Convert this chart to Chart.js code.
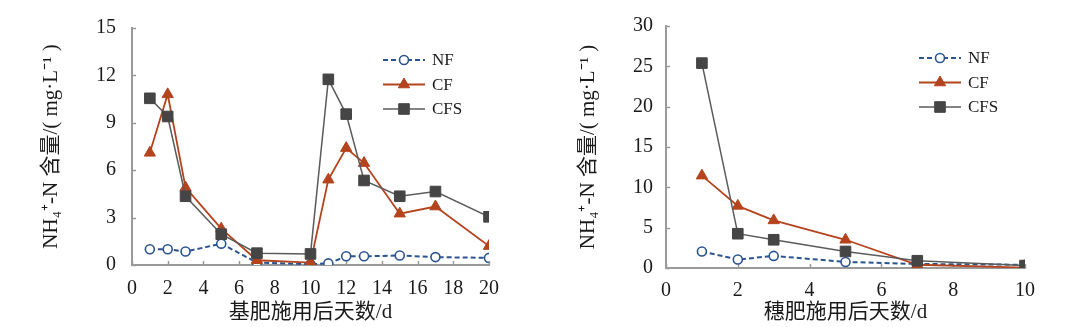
<!DOCTYPE html>
<html>
<head>
<meta charset="utf-8">
<script src="https://cdn.jsdelivr.net/npm/chart.js@4.4.0/dist/chart.umd.min.js"></script>
<style>
  body { margin: 0; background: #fff; }
  #wrap { position: relative; width: 1081px; height: 327px; }
  canvas { position: absolute; top: 0; }
</style>
</head>
<body>
<div id="wrap">
  <canvas id="base-chart" width="540" height="327" style="left:0"></canvas>
  <canvas id="panicle-chart" width="541" height="327" style="left:540px"></canvas>
</div>
<script>
// 基肥 (base fertilizer) period
var baseDays = [1, 2, 3, 5, 7, 10, 11, 12, 13, 15, 17, 20];
var baseNF = [1.0, 1.0, 0.85, 1.35, 0.15, 0.05, 0.1, 0.55, 0.55, 0.6, 0.5, 0.45];
var baseCF = [7.1, 10.8, 4.9, 2.3, 0.3, 0.15, 5.4, 7.4, 6.45, 3.25, 3.7, 1.2];
var baseCFS = [10.55, 9.4, 4.35, 1.95, 0.75, 0.7, 11.75, 9.55, 5.35, 4.35, 4.65, 3.05];

// 穗肥 (panicle fertilizer) period
var panicleDays = [1, 2, 3, 5, 7, 10];
var panicleNF = [2.05, 1.05, 1.5, 0.75, 0.5, 0.4];
var panicleCF = [11.45, 7.7, 5.9, 3.5, 0.4, 0.05];
var panicleCFS = [25.4, 4.25, 3.5, 2.05, 0.9, 0.3];

var seriesNames = ["NF", "CF", "CFS"];
var baseYTicks = { max: 15, step: 3 };
var baseXTicks = { max: 20, step: 2 };
var panicleYTicks = { max: 30, step: 5 };
var panicleXTicks = { max: 10, step: 2 };

var yTitle = "NH₄⁺-N 含量/( mg·L⁻¹ )";
var fontFamily = '"Liberation Serif", "Times New Roman", "Noto Sans CJK SC", serif';
var textColor = "#1a1a1a";
var axisColor = "#9a9a9a";

function toPoints(xs, ys) {
    return xs.map(function (x, i) { return { x: x, y: ys[i] }; });
}

// small tick marks pointing into the plot
var innerTicks = {
    id: "innerTicks",
    beforeDatasetsDraw: function (chart) {
        var ctx = chart.ctx;
        var xs = chart.scales.x, ys = chart.scales.y;
        ctx.save();
        ctx.strokeStyle = axisColor;
        ctx.lineWidth = 1.5;
        ctx.beginPath();
        xs.ticks.forEach(function (t) {
            var px = Math.round(xs.getPixelForValue(t.value)) + 0.5;
            ctx.moveTo(px, xs.top);
            ctx.lineTo(px, xs.top - 4);
        });
        ys.ticks.forEach(function (t) {
            var py = Math.round(ys.getPixelForValue(t.value)) + 0.5;
            ctx.moveTo(ys.right, py);
            ctx.lineTo(ys.right + 4, py);
        });
        ctx.stroke();
        ctx.restore();
    }
};

function drawMarker(ctx, style, r, x, y) {
    ctx.beginPath();
    if (style === "circle") {
        ctx.arc(x, y, r, 0, Math.PI * 2);
    } else if (style === "triangle") {
        ctx.moveTo(x, y - r);
        ctx.lineTo(x + r * 0.866, y + r / 2);
        ctx.lineTo(x - r * 0.866, y + r / 2);
        ctx.closePath();
    } else {
        var s = r * Math.SQRT1_2;
        ctx.rect(x - s, y - s, 2 * s, 2 * s);
    }
    ctx.fill();
    ctx.stroke();
}

// legend: line with marker in the middle, inside the plot
var lineLegend = {
    id: "lineLegend",
    afterDraw: function (chart) {
        var ctx = chart.ctx, area = chart.chartArea;
        var x0 = area.right - 106, x1 = area.right - 64, tx = area.right - 57;
        ctx.save();
        chart.data.datasets.forEach(function (ds, i) {
            var y = area.top + 32 + i * 24.5;
            ctx.strokeStyle = ds.borderColor;
            ctx.lineWidth = ds.borderWidth;
            ctx.setLineDash(ds.borderDash || []);
            ctx.beginPath();
            ctx.moveTo(x0, y);
            ctx.lineTo(x1, y);
            ctx.stroke();
            ctx.setLineDash([]);
            ctx.fillStyle = ds.pointBackgroundColor;
            ctx.strokeStyle = ds.pointBorderColor;
            ctx.lineWidth = ds.pointBorderWidth;
            drawMarker(ctx, ds.pointStyle, ds.pointRadius, (x0 + x1) / 2, y);
            ctx.fillStyle = textColor;
            ctx.font = "17px " + fontFamily;
            ctx.textBaseline = "middle";
            ctx.fillText(ds.label, tx, y + 1);
        });
        ctx.restore();
    }
};

function makeChart(id, days, nf, cf, cfs, xT, yT, xTitle, geo) {
    var ctx = document.getElementById(id).getContext("2d");
    return new Chart(ctx, {
        type: "line",
        data: {
            datasets: [{
                label: seriesNames[0],
                data: toPoints(days, nf),
                borderColor: "#2c5491",
                borderWidth: 2,
                borderDash: [5, 3],
                pointStyle: "circle",
                pointRadius: 4.5,
                pointBorderWidth: 1.6,
                pointBorderColor: "#2c5491",
                pointBackgroundColor: "#ffffff",
                order: 3
            },
            {
                label: seriesNames[1],
                data: toPoints(days, cf),
                borderColor: "#b4441d",
                borderWidth: 1.8,
                pointStyle: "triangle",
                pointRadius: 6.5,
                pointBorderWidth: 1,
                pointBorderColor: "#b4441d",
                pointBackgroundColor: "#b4441d",
                order: 2
            },
            {
                label: seriesNames[2],
                data: toPoints(days, cfs),
                borderColor: "#5b5b5b",
                borderWidth: 1.5,
                pointStyle: "rect",
                pointRadius: 7.5,
                pointBorderWidth: 1,
                pointBorderColor: "#454545",
                pointBackgroundColor: "#454545",
                order: 1
            }]
        },
        options: {
            responsive: false,
            animation: false,
            events: [],
            layout: {
                padding: { left: 0, top: geo.top, right: geo.right, bottom: 0 }
            },
            plugins: {
                legend: { display: false },
                tooltip: { enabled: false }
            },
            scales: {
                x: {
                    type: "linear",
                    min: 0,
                    max: xT.max,
                    afterFit: function (s) { s.height = geo.xHeight; },
                    ticks: {
                        stepSize: xT.step,
                        padding: geo.xPad,
                        color: textColor,
                        font: { size: 20, family: fontFamily }
                    },
                    grid: { display: false, drawTicks: false },
                    border: { display: true, color: axisColor, width: 2 },
                    title: {
                        display: true,
                        text: xTitle,
                        color: textColor,
                        padding: { top: 0, bottom: 2 },
                        font: { size: 21, family: fontFamily }
                    }
                },
                y: {
                    min: 0,
                    max: yT.max,
                    afterFit: function (s) { s.width = geo.yWidth; },
                    ticks: {
                        stepSize: yT.step,
                        padding: geo.yPad,
                        color: textColor,
                        font: { size: 20, family: fontFamily }
                    },
                    grid: { display: false, drawTicks: false },
                    border: { display: true, color: axisColor, width: 2 },
                    title: {
                        display: true,
                        text: yTitle,
                        color: textColor,
                        padding: { top: geo.yTitleOff, bottom: 0 },
                        font: { size: 21, family: fontFamily }
                    }
                }
            }
        },
        plugins: [innerTicks, lineLegend]
    });
}

makeChart("base-chart", baseDays, baseNF, baseCF, baseCFS, baseXTicks, baseYTicks,
    "基肥施用后天数/d",
    { top: 23, right: 51, xHeight: 62, yWidth: 132, xPad: 12, yPad: 16, yTitleOff: 39 });

makeChart("panicle-chart", panicleDays, panicleNF, panicleCF, panicleCFS, panicleXTicks, panicleYTicks,
    "穗肥施用后天数/d",
    { top: 26, right: 56, xHeight: 59, yWidth: 126, xPad: 11, yPad: 13, yTitleOff: 36 });
</script>
</body>
</html>
